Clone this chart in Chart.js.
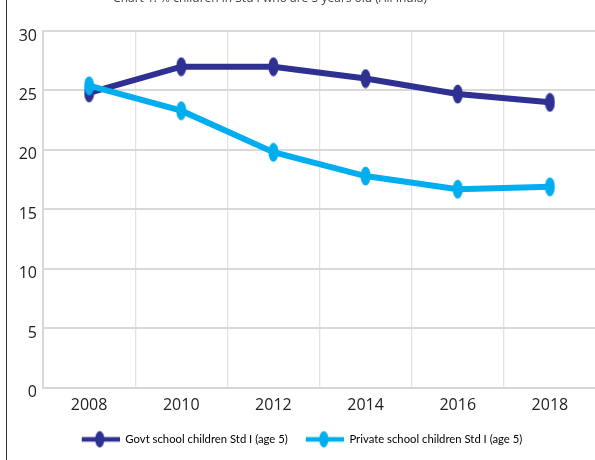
<!DOCTYPE html>
<html>
<head>
<meta charset="utf-8">
<script src="https://cdn.jsdelivr.net/npm/chart.js@4"></script>
<style>
  html, body { margin: 0; padding: 0; background: #fff; overflow: hidden; }
  #wrap { position: absolute; left: 0; top: 0; width: 609px; height: 460px; }
  #edge { position: absolute; left: 6px; top: 0; width: 1px; height: 460px; background: #333; }
</style>
</head>
<body>
<div id="wrap"><canvas id="aserChart" width="609" height="460"></canvas></div>
<div id="edge"></div>
<script>
// Data
const years = ['2008', '2010', '2012', '2014', '2016', '2018'];
const govtAge5 = [24.8, 27.0, 27.0, 26.0, 24.7, 24.0];
const privateAge5 = [25.4, 23.3, 19.8, 17.8, 16.7, 16.9];
const yTicks = [0, 5, 10, 15, 20, 25, 30];
const titleText = 'Chart 1: % children in Std I who are 5 years old (All India)';

const navy = '#2e3192';
const cyan = '#00aeef';

// ellipse marker
function marker(color) {
    const c = document.createElement('canvas');
    c.width = 11; c.height = 20;
    const g = c.getContext('2d');
    g.fillStyle = color;
    g.beginPath();
    g.ellipse(5.5, 10, 5, 9.5, 0, 0, Math.PI * 2);
    g.fill();
    return c;
}

// line + marker for the legend (blank on the left = gap between items)
function legendIcon(color) {
    const c = document.createElement('canvas');
    c.width = 46; c.height = 18;
    const g = c.getContext('2d');
    g.fillStyle = color;
    g.fillRect(8, 6.7, 38, 4.6);
    g.beginPath();
    g.ellipse(26, 9, 4.6, 8.2, 0, 0, Math.PI * 2);
    g.fill();
    return c;
}

const cutTitle = {
    id: 'cutTitle',
    afterDraw(chart) {
        const c = chart.ctx;
        c.save();
        c.font = '12px "Open Sans"';
        c.fillStyle = '#444';
        c.textAlign = 'center';
        c.textBaseline = 'alphabetic';
        c.fillText(titleText, 270, 2);
        c.restore();
    }
};

const ctx = document.getElementById('aserChart').getContext('2d');

new Chart(ctx, {
    type: 'line',
    data: {
        labels: years,
        datasets: [
            {
                label: 'Govt school children Std I (age 5)',
                data: govtAge5,
                borderColor: navy,
                backgroundColor: navy,
                borderWidth: 6,
                pointStyle: marker(navy),
                pointRadius: 5,
                tension: 0,
                order: 1
            },
            {
                label: 'Private school children Std I (age 5)',
                data: privateAge5,
                borderColor: cyan,
                backgroundColor: cyan,
                borderWidth: 6,
                pointStyle: marker(cyan),
                pointRadius: 5,
                tension: 0,
                order: 0
            }
        ]
    },
    options: {
        responsive: false,
        animation: false,
        devicePixelRatio: 1,
        layout: { padding: { top: 31, left: 0, right: 13, bottom: 5 } },
        plugins: {
            tooltip: { enabled: false },
            legend: {
                position: 'bottom',
                labels: {
                    usePointStyle: true,
                    pointStyleWidth: 46,
                    padding: 10,
                    color: '#222',
                    font: { family: 'Lato', size: 11.3 },
                    generateLabels(chart) {
                        return chart.data.datasets.map((ds, i) => ({
                            text: ds.label,
                            pointStyle: legendIcon(ds.borderColor),
                            fillStyle: ds.borderColor,
                            strokeStyle: ds.borderColor,
                            lineWidth: 0,
                            hidden: false,
                            datasetIndex: i
                        }));
                    }
                }
            }
        },
        scales: {
            x: {
                offset: true,
                grid: { offset: true, color: '#e3e3e3', lineWidth: 1.3, drawTicks: false },
                border: { color: '#d6d6d6', width: 2 },
                ticks: {
                    color: '#222',
                    padding: 8,
                    maxRotation: 0,
                    font: { family: 'Open Sans', size: 16 }
                },
                afterFit(scale) { scale.height = 36; }
            },
            y: {
                min: 0,
                max: 30,
                afterBuildTicks(scale) { scale.ticks = yTicks.map(v => ({ value: v })); },
                grid: { color: '#d9d9d9', lineWidth: 2, drawTicks: false },
                border: { color: '#d9d9d9', width: 2 },
                ticks: {
                    color: '#222',
                    padding: 6,
                    labelOffset: 5,
                    font: { family: 'Open Sans', size: 16 }
                },
                afterFit(scale) { scale.width = 43; }
            }
        }
    },
    plugins: [cutTitle]
});
</script>
</body>
</html>
